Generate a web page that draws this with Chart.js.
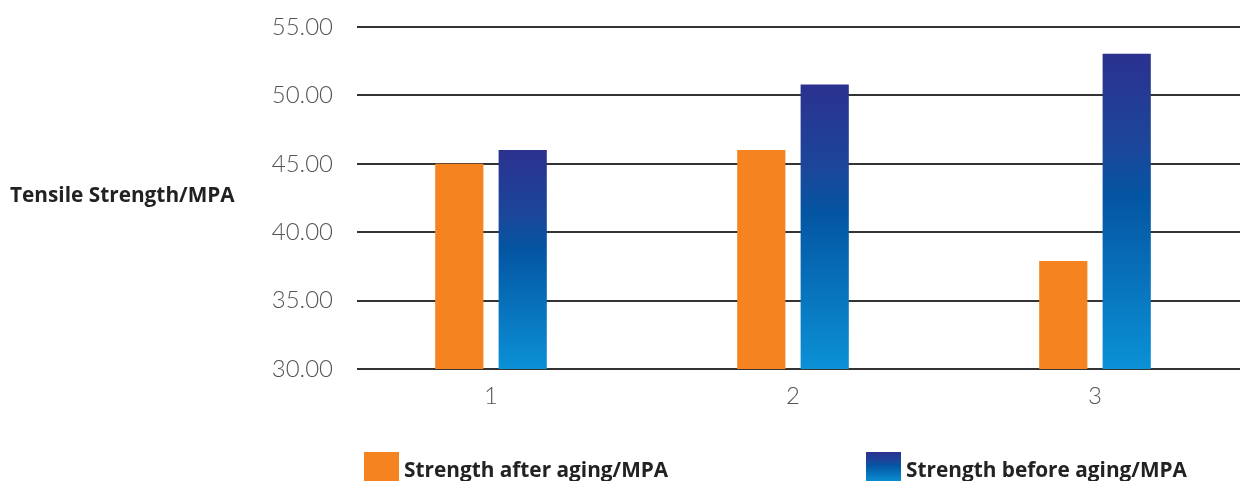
<!DOCTYPE html>
<html>
<head>
<meta charset="utf-8">
<script src="https://cdn.jsdelivr.net/npm/chart.js@4/dist/chart.umd.min.js"></script>
<style>
  html, body { margin: 0; padding: 0; background: #ffffff; overflow: hidden; }
  #wrap { position: relative; width: 1240px; height: 481px; overflow: hidden; }
</style>
</head>
<body>
<div id="wrap"><canvas id="c" width="1246" height="481"></canvas></div>
<script>
// ---- data ----
const categories = ['1', '2', '3'];
const afterAging = [45.0, 46.0, 37.9];
const beforeAging = [46.0, 50.8, 53.05];
const seriesLabels = ['Strength after aging/MPA', 'Strength before aging/MPA'];
const yTicks = [30, 35, 40, 45, 50, 55];
const yTitle = 'Tensile Strength/MPA';

// ---- styles ----
const ORANGE = '#f5831f';
const BLUE_STOPS = [[0, '#2b318f'], [0.3, '#1b479b'], [0.45, '#0455a2'], [1, '#0b91d6']];
const TICK_FONT = { family: 'Lato, "Open Sans", sans-serif', size: 24, weight: '300' };
const BOLD_FAMILY = '"Open Sans", Lato, sans-serif';

function blueGradient(chart, top, bottom) {
  const g = chart.ctx.createLinearGradient(0, top, 0, bottom);
  BLUE_STOPS.forEach(s => g.addColorStop(s[0], s[1]));
  return g;
}

const gridPlugin = {
  id: 'gridFromTicks',
  beforeDatasetsDraw(chart) {
    const { ctx, chartArea, scales } = chart;
    ctx.save();
    ctx.strokeStyle = '#333333';
    ctx.lineWidth = 2;
    yTicks.forEach(v => {
      const y = Math.round(scales.y.getPixelForValue(v));
      ctx.beginPath();
      ctx.moveTo(chartArea.left + 17, y);
      ctx.lineTo(chartArea.right, y);
      ctx.stroke();
    });
    ctx.restore();
  }
};

const textPlugin = {
  id: 'titleAndLegend',
  afterDraw(chart) {
    const { ctx, chartArea, scales } = chart;
    ctx.save();
    // y axis title (horizontal, left)
    ctx.fillStyle = '#222222';
    ctx.font = 'bold 20.8px ' + BOLD_FAMILY;
    ctx.textAlign = 'left';
    ctx.textBaseline = 'middle';
    ctx.fillText(yTitle, 10, scales.y.getPixelForValue(42.65));

    // legend
    const items = [
      { x: chartArea.left + 24, fill: () => ORANGE, text: seriesLabels[0] },
      { x: chartArea.left + 526, fill: (t, b) => blueGradient(chart, t, b), text: seriesLabels[1] }
    ];
    const boxTop = 452, boxH = 32, boxW = 35;
    items.forEach(it => {
      ctx.fillStyle = it.fill(boxTop, boxTop + 30);
      ctx.fillRect(it.x, boxTop, boxW, boxH);
      ctx.fillStyle = '#222222';
      ctx.font = 'bold 20.8px ' + BOLD_FAMILY;
      ctx.textBaseline = 'alphabetic';
      ctx.fillText(it.text, it.x + boxW + 5, 477);
    });
    ctx.restore();
  }
};

new Chart(document.getElementById('c'), {
  type: 'bar',
  data: {
    labels: categories,
    datasets: [
      {
        label: seriesLabels[0],
        data: afterAging,
        backgroundColor: ORANGE,
        borderWidth: 0,
        barPercentage: 0.76,
        categoryPercentage: 0.42
      },
      {
        label: seriesLabels[1],
        data: beforeAging,
        backgroundColor: (c) => {
          const chart = c.chart;
          if (!chart.chartArea || c.raw === undefined) return BLUE_STOPS[2][1];
          const y = chart.scales.y;
          return blueGradient(chart, y.getPixelForValue(c.raw), y.getPixelForValue(y.min));
        },
        borderWidth: 0,
        barPercentage: 0.76,
        categoryPercentage: 0.42
      }
    ]
  },
  options: {
    responsive: false,
    animation: false,
    layout: { padding: { top: 27, right: 0, bottom: 0, left: 0 } },
    plugins: {
      legend: { display: false },
      tooltip: { enabled: false }
    },
    scales: {
      x: {
        grid: { display: false, drawTicks: false },
        border: { display: false },
        ticks: { color: '#555555', font: TICK_FONT, padding: 13 },
        afterFit(s) { s.height = 112; }
      },
      y: {
        min: 30,
        max: 55,
        grid: { display: false, drawTicks: false },
        border: { display: false },
        ticks: {
          stepSize: 5,
          color: '#555555',
          font: TICK_FONT,
          padding: 7,
          callback: (v) => Number(v).toFixed(2)
        },
        afterFit(s) { s.width = 340; }
      }
    }
  },
  plugins: [gridPlugin, textPlugin]
});
</script>
</body>
</html>
